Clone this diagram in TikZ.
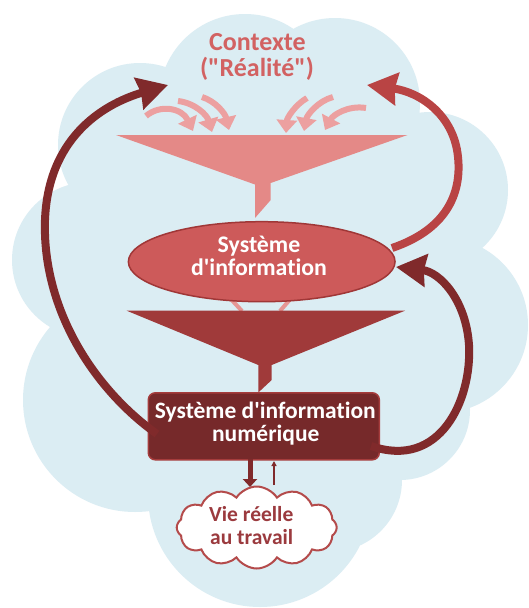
\documentclass[tikz,border=0pt]{standalone}
\usepackage{fontspec}
\setmainfont{Carlito}[Ligatures={NoCommon}]
\usetikzlibrary{arrows.meta,shapes.geometric,shapes.symbols}
\definecolor{bgblue}{RGB}{219,237,243}
\definecolor{funnelA}{RGB}{228,137,135}
\definecolor{smallpink}{RGB}{236,160,160}
\definecolor{sifill}{RGB}{205,90,90}
\definecolor{siborder}{RGB}{160,55,55}
\definecolor{pinkline}{RGB}{230,150,148}
\definecolor{funnelB}{RGB}{160,58,58}
\definecolor{sinfill}{RGB}{118,41,42}
\definecolor{sinborder}{RGB}{165,60,60}
\definecolor{darkarrow}{RGB}{128,42,43}
\definecolor{redarrow}{RGB}{185,68,68}
\definecolor{cloudborder}{RGB}{180,75,75}
\definecolor{cloudtext}{RGB}{155,58,62}
\definecolor{ctxred}{RGB}{210,98,98}
\begin{document}
\begin{tikzpicture}[x=1pt,y=-1pt,
  ctxtext/.style={font=\fontsize{26}{26}\selectfont\bfseries, text=ctxred, inner sep=0pt, anchor=base},
  sitext/.style={font=\fontsize{23.8}{23}\selectfont\bfseries, text=white, inner sep=0pt, anchor=base},
  sintext/.style={font=\fontsize{23.5}{23}\selectfont\bfseries, text=white, inner sep=0pt, anchor=base},
  vietext/.style={font=\fontsize{21.5}{22}\selectfont\bfseries, text=cloudtext, inner sep=0pt, anchor=base},
  pinkarrow/.style={draw=smallpink, line width=6pt, -{Triangle[length=13pt,width=20pt]}},
  bigdark/.style={draw=darkarrow, line width=8pt, -{Stealth[length=30pt,width=32pt,inset=2pt]}},
  bigred/.style={draw=redarrow, line width=8pt, -{Stealth[length=30pt,width=32pt,inset=2pt]}},
  siellipse/.style={ellipse, draw=siborder, fill=sifill, line width=1.5pt, minimum width=266.7pt, minimum height=80pt, inner sep=0pt},
  sinbox/.style={rectangle, rounded corners=7pt, draw=sinborder, fill=sinfill, line width=1.5pt, minimum width=231pt, minimum height=67pt, inner sep=0pt},
  viecloud/.style={cloud, cloud puffs=12, cloud puff arc=115, cloud ignores aspect, draw=cloudborder, fill=white, line width=2pt, minimum width=160pt, minimum height=82pt, inner sep=0pt},
  connector/.style={draw=pinkline, line width=4pt}
]
\useasboundingbox (0,0) rectangle (528,608);
\fill[white] (0,0) rectangle (528,608);
% background cloud
\fill[bgblue] (245,100) circle[radius=86pt] (335,103) circle[radius=85pt]
  (140,145) circle[radius=82pt] (90,260) circle[radius=78pt]
  (135,400) circle[radius=112pt] (260,495) circle[radius=112pt]
  (330,480) circle[radius=72pt] (400,410) circle[radius=70pt]
  (440,325) circle[radius=88pt] (430,190) circle[radius=78pt]
  (270,300) circle[radius=190pt];
% context text
\node[ctxtext] (ctx1) at (257.5,50.7) {Contexte};
\node[ctxtext] (ctx2) at (257,76.7) {(\textquotedbl Réalité\textquotedbl)};
% small inflow arrows
\coordinate (a1s) at (146,116); \coordinate (a1e) at (193,131);
\coordinate (a2s) at (178,101); \coordinate (a2e) at (212,132);
\coordinate (a3s) at (202,97);  \coordinate (a3e) at (229,130);
\coordinate (a4s) at (307,98);  \coordinate (a4e) at (286,133);
\coordinate (a5s) at (333,97);  \coordinate (a5e) at (304,131);
\coordinate (a6s) at (366,108); \coordinate (a6e) at (325,130);
\draw[pinkarrow] (a1s) .. controls (160,104) and (182,108) .. (a1e);
\draw[pinkarrow] (a2s) .. controls (195,103) and (207,115) .. (a2e);
\draw[pinkarrow] (a3s) .. controls (215,101) and (225,113) .. (a3e);
\draw[pinkarrow] (a4s) .. controls (295,105) and (287,118) .. (a4e);
\draw[pinkarrow] (a5s) .. controls (318,101) and (307,115) .. (a5e);
\draw[pinkarrow] (a6s) .. controls (348,105) and (333,115) .. (a6e);
% funnel 1
\fill[funnelA] (116,135) -- (407.5,135) -- (270.7,183) -- (270.7,200) -- (255,218) -- (255,184.5) -- cycle;
% connectors ellipse -> funnel 2
\coordinate (c1s) at (228,296); \coordinate (c1e) at (242,311);
\coordinate (c2s) at (293,296); \coordinate (c2e) at (280,311);
\draw[connector] (c1s) -- (c1e);
\draw[connector] (c2s) -- (c2e);
% ellipse
\node[siellipse] (si) at (261.7,261.7) {};
\node[sitext] (si1) at (259,252.3) {Système};
\node[sitext] (si2) at (259,275) {d\textquotesingle information};
% funnel 2
\fill[funnelB] (126.7,310.7) -- (405,310.7) -- (271.7,365) -- (271.7,380) -- (258.3,392.5) -- (258.3,365) -- cycle;
% box
\node[sinbox] (sin) at (263.8,426.3) {};
\node[sintext] (sin1) at (265.3,418.3) {Système d\textquotesingle information};
\node[sintext] (sin2) at (265.8,441.7) {numérique};
% big loop arrows
\coordinate (la-s) at (157,434); \coordinate (la-m) at (45,220); \coordinate (la-e) at (168,85);
\draw[bigdark] (la-s) .. controls (95,390) and (42,310) .. (la-m) .. controls (48,140) and (100,105) .. (la-e);
\coordinate (ra-s) at (392,248); \coordinate (ra-m) at (458,157); \coordinate (ra-e) at (367,85);
\draw[bigred] (ra-s) .. controls (445,230) and (462,195) .. (ra-m) .. controls (454,115) and (420,92) .. (ra-e);
\coordinate (rb-s) at (371,446); \coordinate (rb-m) at (469,345); \coordinate (rb-e) at (396,267);
\draw[bigdark] (rb-s) .. controls (440,470) and (472,400) .. (rb-m) .. controls (466,300) and (440,272) .. (rb-e);
% real-life cloud
\node[viecloud] (vie) at (256.7,527.5) {};
\node[vietext] (vie1) at (251.3,521.7) {Vie réelle};
\node[vietext] (vie2) at (251.7,544) {au travail};
% small arrows box <-> cloud
\coordinate (d-s) at (250,459); \coordinate (d-e) at (250,487);
\coordinate (u-s) at (274,485); \coordinate (u-e) at (274,461);
\draw[draw=darkarrow, line width=5pt, -{Triangle[length=8pt,width=14pt]}] (d-s) -- (d-e);
\draw[draw=darkarrow, line width=1.2pt, -{Triangle[length=5pt,width=5pt]}] (u-s) -- (u-e);
\end{tikzpicture}
\end{document}
